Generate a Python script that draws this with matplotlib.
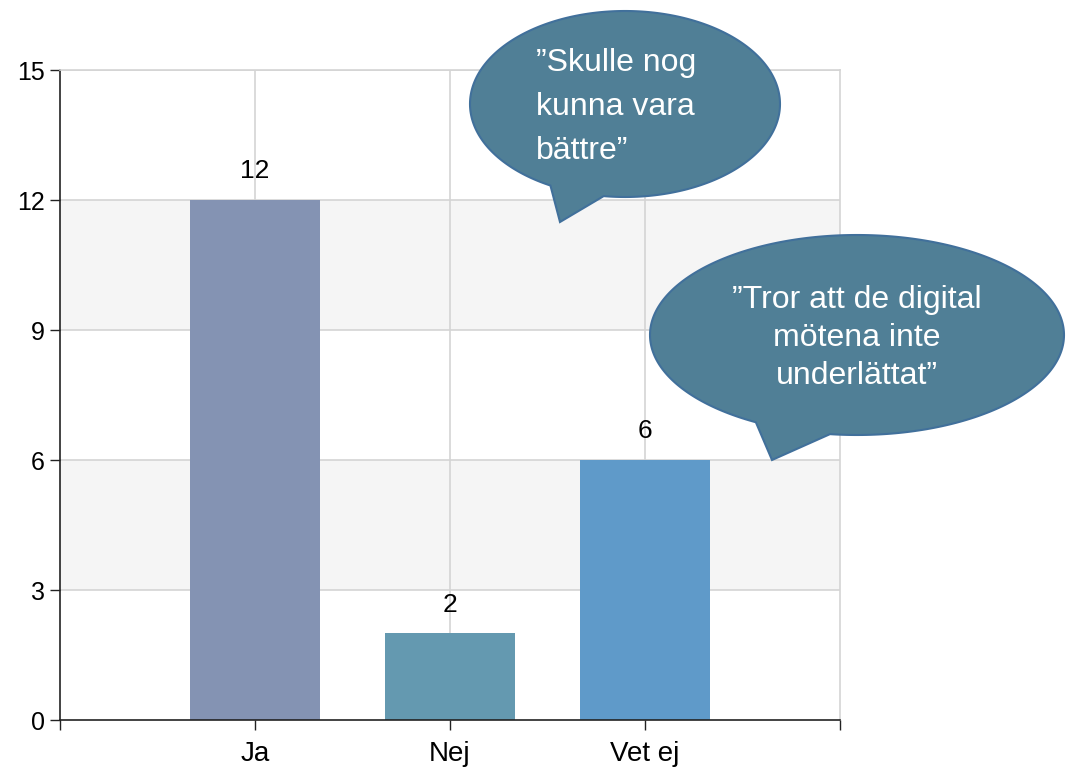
import numpy as np
import matplotlib
matplotlib.use("Agg")
import matplotlib.pyplot as plt
from matplotlib.patches import Polygon
from matplotlib.transforms import Affine2D

plt.rcParams['font.family'] = ['Liberation Sans', 'DejaVu Sans']

categories = ["Ja", "Nej", "Vet ej"]
values = [12, 2, 6]
bar_colors = ["#8493b3", "#6499b0", "#5f9ac9"]
yticks = [0, 3, 6, 9, 12, 15]
bubble1_text = "\u201dSkulle nog\nkunna vara\nbättre\u201d"
bubble2_text = "\u201dTror att de digital\nmötena inte\nunderlättat\u201d"

W, H = 1071, 769
fig = plt.figure(figsize=(W / 100, H / 100), dpi=100)
ax = fig.add_axes([60 / W, (H - 720) / H, 780 / W, 650 / H])

x = np.arange(len(categories))
ax.set_xlim(-1, 3)
ax.set_ylim(0, 15)

# alternating bands
for lo in (3, 9):
    ax.axhspan(lo, lo + 3, color="#f5f5f5", zorder=0, lw=0)
for yv in yticks[1:]:
    ax.axhline(yv, color="#d4d4d4", lw=1.2, zorder=1)
for xv in x:
    ax.axvline(xv, color="#d4d4d4", lw=1.2, zorder=1)

bars = ax.bar(x, values, width=0.667, color=bar_colors, zorder=2)
for xi, v in zip(x, values):
    ax.annotate(str(v), (xi, v), xytext=(0, 12), textcoords="offset points",
                ha="center", va="bottom", fontsize=19, color="black")

ax.set_yticks(yticks)
ax.set_yticklabels([str(t) for t in yticks], fontsize=18)
ax.set_xticks([-1, 0, 1, 2, 3])
ax.set_xticklabels(["", *categories, ""], fontsize=20)
ax.tick_params(axis="y", length=7, width=1, color="#222222", pad=4)
ax.tick_params(axis="x", length=7, width=1, color="#222222", pad=8)
for s in ("left", "bottom"):
    ax.spines[s].set_color("#222222")
    ax.spines[s].set_linewidth(1.2)
for s in ("top", "right"):
    ax.spines[s].set_color("#d4d4d4")
    ax.spines[s].set_linewidth(1.2)

# speech bubbles in figure pixel coords (origin top-left)
pix = Affine2D().scale(1 / W, -1 / H).translate(0, 1) + fig.transFigure


def bubble(cx, cy, a, b, base_l, tip, base_r):
    tl = np.arctan2((base_l[1] - cy) / b, (base_l[0] - cx) / a)
    tr = np.arctan2((base_r[1] - cy) / b, (base_r[0] - cx) / a)
    gap = (tl - tr) % (2 * np.pi)
    t = np.linspace(tl, tl + (2 * np.pi - gap), 300)
    pts = np.column_stack([cx + a * np.cos(t), cy + b * np.sin(t)])
    pts = np.vstack([pts, [tip]])
    p = Polygon(pts, closed=True, facecolor="#507f96", edgecolor="#41709b",
                lw=1.5, transform=pix, zorder=10, clip_on=False)
    fig.add_artist(p)


bubble(625, 104, 155, 93, (550, 186), (560, 222), (603, 199))
bubble(857, 335, 207, 100, (755, 423), (772, 460), (830, 434))

fig.text(536 / W, 1 - 107 / H, bubble1_text, ha="left", va="center", color="white",
         fontsize=23, linespacing=1.6, zorder=11)
fig.text(857 / W, 1 - 338 / H, bubble2_text, ha="center", va="center", color="white",
         fontsize=23, linespacing=1.35, zorder=11)

fig.savefig("out.png", dpi=100)
